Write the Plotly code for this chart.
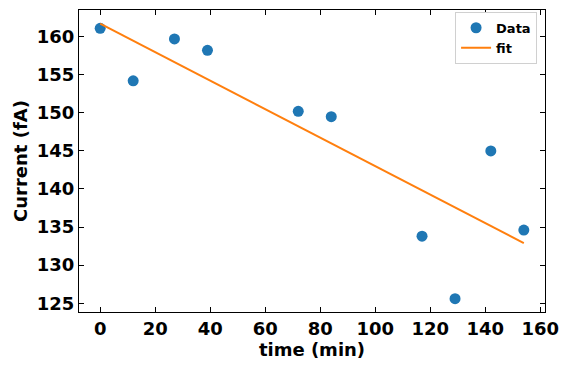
import plotly.graph_objects as go

time_min = [0, 12, 27, 39, 72, 84, 117, 129, 142, 154]
current_fa = [161.1, 154.2, 159.7, 158.2, 150.2, 149.5, 133.8, 125.6, 145.0, 134.6]

# linear fit endpoints
fit_time = [0, 154]
fit_current = [161.7, 132.9]

fig = go.Figure()

fig.add_trace(go.Scatter(
    x=time_min, y=current_fa, mode='markers', name='Data',
    marker=dict(color='#1f77b4', size=11)))

fig.add_trace(go.Scatter(
    x=fit_time, y=fit_current, mode='lines', name='fit',
    line=dict(color='#ff7f0e', width=2)))

axis_style = dict(
    showgrid=False, zeroline=False,
    showline=True, linecolor='black', linewidth=1.2, mirror='ticks',
    ticks='inside', ticklen=5, tickwidth=1, tickcolor='black',
    tickfont=dict(family="DejaVu Sans", size=18, color="black", weight="bold"),
)

fig.update_layout(
    width=571, height=372,
    margin=dict(l=79, r=26, t=10, b=60),
    plot_bgcolor='white', paper_bgcolor='white',
    font=dict(family="DejaVu Sans", size=16, color="black"),
    xaxis=dict(axis_style, range=[-7.7, 161.7], dtick=20, tick0=0,
               title=dict(text='<b>time (min)</b>', standoff=4,
                          font=dict(family="DejaVu Sans", size=18, color="black"))),
    yaxis=dict(axis_style, range=[123.85, 163.5], dtick=5, tick0=125,
               title=dict(text='<b>Current (fA)</b>', standoff=4,
                          font=dict(family="DejaVu Sans", size=18, color="black"))),
    legend=dict(x=0.983, y=0.994, xanchor='right', yanchor='top',
                bordercolor='#d0d0d0', borderwidth=1, bgcolor='white',
                font=dict(family="DejaVu Sans", size=13, color="black", weight="bold"),
                tracegroupgap=0, itemwidth=30),
    showlegend=True,
)

fig.write_html("out.html", config={'displayModeBar': False},
               post_script="document.body.style.margin='0';")
